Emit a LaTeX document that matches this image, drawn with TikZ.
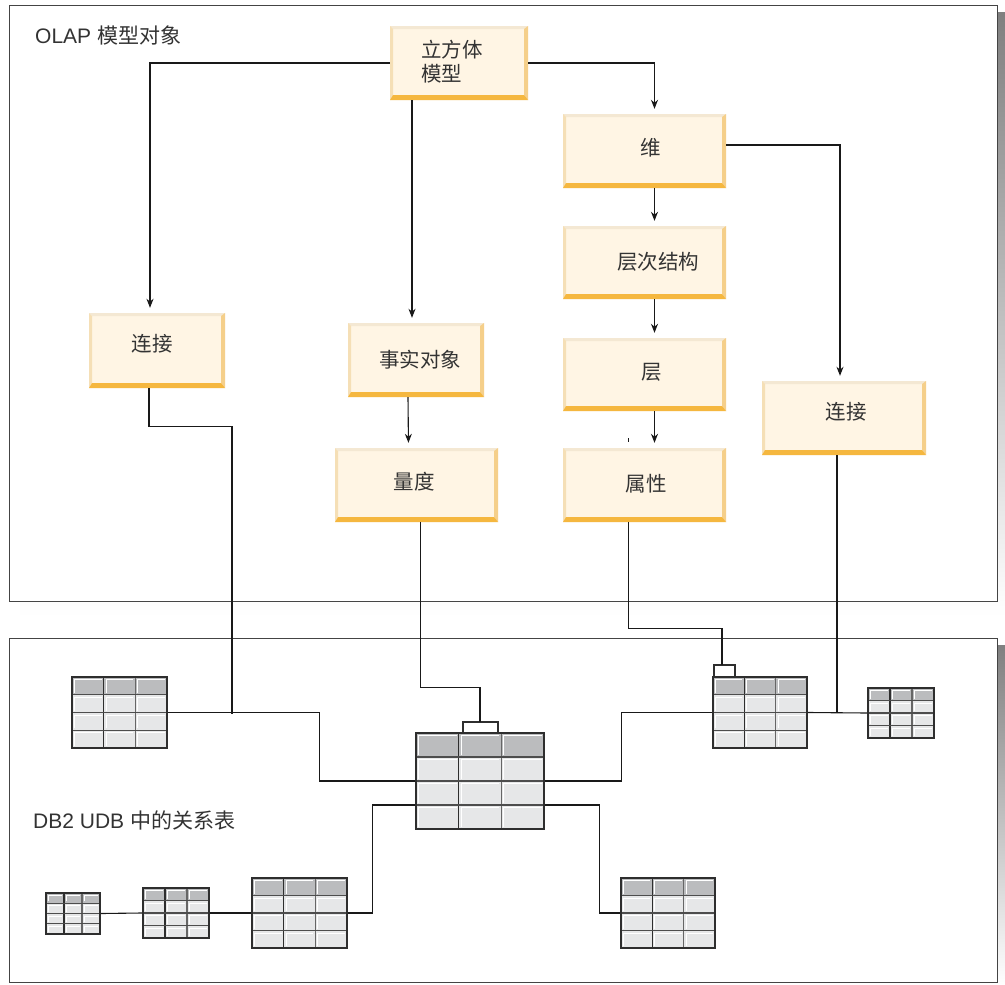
\documentclass[tikz,border=0pt]{standalone}
\usepackage{fontspec}
\setmainfont{Liberation Sans}
\newfontfamily\cjk{Noto Sans CJK SC}
\usetikzlibrary{arrows.meta,fit,calc}
\definecolor{boxfill}{HTML}{FFF5E4}
\definecolor{boxtop}{HTML}{F4E8D3}
\definecolor{boxleft}{HTML}{F5DFB6}
\definecolor{boxright}{HTML}{F5CF8A}
\definecolor{boxbot}{HTML}{F5B73F}
\definecolor{tabhead}{HTML}{BBBCBE}
\definecolor{tabbody}{HTML}{E6E7E8}
\definecolor{tabline}{HTML}{2E2E2E}
\definecolor{shade}{HTML}{E6E7E8}
\definecolor{txt}{HTML}{333333}
\definecolor{frame}{HTML}{444444}
\tikzset{
  conn/.style={draw=black!90, line width=1.1pt},
  arr/.style={conn, -{Stealth[length=9pt,width=7pt]}, shorten >=5pt},
  lbl/.style={font=\cjk\fontsize{20.5}{24}\selectfont, text=txt, inner sep=0pt},
  title/.style={font=\fontsize{21}{24}\selectfont, text=txt, inner sep=0pt, anchor=west},
}
\newcommand\obox[5]{%
  \node[fit={(#2,#3)(#4,#5)}, inner sep=0pt, fill=boxfill] (#1) {};
  \fill[boxtop] (#2,#3) -- (#4,#3) -- (#4-4,#3+3) -- (#2+3,#3+3) -- cycle;
  \fill[boxleft] (#2,#3) -- (#2+3,#3+3) -- (#2+3,#5-5) -- (#2,#5) -- cycle;
  \fill[boxright] (#4,#3) -- (#4-4,#3+3) -- (#4-4,#5-5) -- (#4,#5) -- cycle;
  \fill[boxbot] (#2,#5) -- (#4,#5) -- (#4-4,#5-5) -- (#2+3,#5-5) -- cycle;
}
\newcommand\dbtab[5]{%
  \pgfmathsetmacro\tbw{(#4-#2)/3}%
  \pgfmathsetmacro\tbh{(#5-#3)/4}%
  \foreach \r in {0,1,2,3}{\foreach \c in {0,1,2}{%
    \pgfmathsetmacro\xa{#2+\c*\tbw}\pgfmathsetmacro\xb{\xa+\tbw}%
    \pgfmathsetmacro\ya{#3+\r*\tbh}\pgfmathsetmacro\yb{\ya+\tbh}%
    \ifnum\r=0 \def\tabcol{tabhead}\else\def\tabcol{tabbody}\fi
    \fill[\tabcol] (\xa,\ya) rectangle (\xb,\yb);
    \draw[white, line width=1pt] (\xa+2.5,\yb-2) -- (\xa+2.5,\ya+2.5) -- (\xb-2,\ya+2.5);
  }}%
  \draw[tabline, line width=1.4pt] ({#2+\tbw},#3) -- ({#2+\tbw},#5);
  \draw[black!60, line width=1.6pt] ({#2+2*\tbw},#3) -- ({#2+2*\tbw},#5);
  \foreach \r in {1,2,3} \draw[tabline!85, line width=1.4pt] (#2,{#3+\r*\tbh}) -- (#4,{#3+\r*\tbh});
  \node[fit={(#2,#3)(#4,#5)}, inner sep=0pt, draw=tabline, line width=2.4pt] (#1) {};
}
\begin{document}
\begin{tikzpicture}[x=1pt,y=-1pt]
\useasboundingbox (0,0) rectangle (1005,985);
% panels with shadows
\fill[shade] (20,12) rectangle (1005,617);
\fill[shade] (20,645) rectangle (1005,985);
\node[fit={(9,5)(997,601)}, inner sep=0pt, draw=frame, fill=white, line width=0.9pt] (top) {};
\node[fit={(9,638)(997,982)}, inner sep=0pt, draw=frame, fill=white, line width=0.9pt] (bot) {};
\node[title] (t1lbl) at (35,35) {OLAP {\cjk 模型对象}};
\node[title] (t2lbl) at (33,820) {DB2 UDB {\cjk 中的关系表}};
% boxes
\obox{cube}{390}{26}{528}{100}
\obox{dim}{563}{114}{726}{188}
\obox{hier}{563}{226}{726}{299}
\obox{lev}{563}{338}{726}{411}
\obox{attr}{563}{448}{726}{522}
\obox{cnA}{89}{313}{225}{388}
\obox{fact}{348}{323}{484}{397}
\obox{meas}{335}{448}{498}{522}
\obox{cnB}{762}{381}{926}{455}
\node[lbl, align=left, anchor=west] (cubeT) at (421,62) {立方体\\模型};
\node[lbl] (dimT) at (651,148) {维};
\node[lbl] (hierT) at (658,262) {层次结构};
\node[lbl] (levT) at (652,372) {层};
\node[lbl] (attrT) at (646,484) {属性};
\node[lbl] (cnAT) at (152,344) {连接};
\node[lbl] (factT) at (420,360) {事实对象};
\node[lbl] (measT) at (414,482) {量度};
\node[lbl] (cnBT) at (846,412) {连接};
% arrows
\draw[arr] (cube.west) -| ([xshift=-7]cnA.north);
\draw[arr] ([xshift=-4]fact.north |- cube.south) -- ([xshift=-4]fact.north);
\draw[arr] (cube.east) -| ([xshift=10]dim.north);
\draw[arr] ([yshift=6]dim.east) -| ([xshift=-4]cnB.north);
\draw[arr] ([xshift=10]dim.south) -- ([xshift=10]hier.north);
\draw[arr] ([xshift=10]hier.south) -- ([xshift=10]lev.north);
\draw[arr] ([xshift=10]lev.south) -- ([xshift=10]attr.north);
\draw[arr] ([xshift=-8]fact.south) -- ([xshift=-8]meas.north);
\draw[conn, line width=0.6pt] (628,438) -- (628,442);
% tables
\dbtab{tA}{72}{677}{167}{748}
\dbtab{cen}{416}{733}{544}{829}
\dbtab{tR}{713}{677}{807}{748}
\dbtab{tS}{868}{688}{934}{738}
\dbtab{b1}{46}{893}{100}{934}
\dbtab{b2}{143}{888}{209}{938}
\dbtab{b3}{252}{878}{347}{948}
\dbtab{b4}{621}{878}{715}{948}
% brackets
\coordinate (brA) at (480,722);
\coordinate (brB) at (722,665);
\draw[tabline, line width=1.2pt] (463,733) -- (463,722) -- (498,722) -- (498,733);
\draw[tabline, line width=1.2pt] (714,677) -- (714,665) -- (735,665) -- (735,677);
\coordinate (jA) at (232,714);
\coordinate (jB) at (837,712);
% lower connectors
\draw[conn] ([xshift=-8]cnA.south) -- ++(0,38) -| (jA);
\draw[conn] (tA.east) -- ++(151,0) |- (cen.west);
\draw[conn] ([xshift=4]meas.south) -- ++(0,165) -| (brA);
\draw[conn] ([xshift=-16]attr.south) -- ++(0,106) -| (brB);
\draw[conn] ([xshift=-7]cnB.south) -- (jB);
\draw[conn] (tR.east) -- (tS.west);
\draw[conn] (cen.east) -- ++(76,0) |- (tR.west);
\draw[conn] ([yshift=-24]cen.west) -- ++(-42,0) |- (b3.east);
\draw[conn] ([yshift=-24]cen.east) -- ++(54,0) |- (b4.west);
\draw[conn] (b1.east) -- (b2.west);
\draw[conn] (b2.east) -- (b3.west);
\end{tikzpicture}
\end{document}
